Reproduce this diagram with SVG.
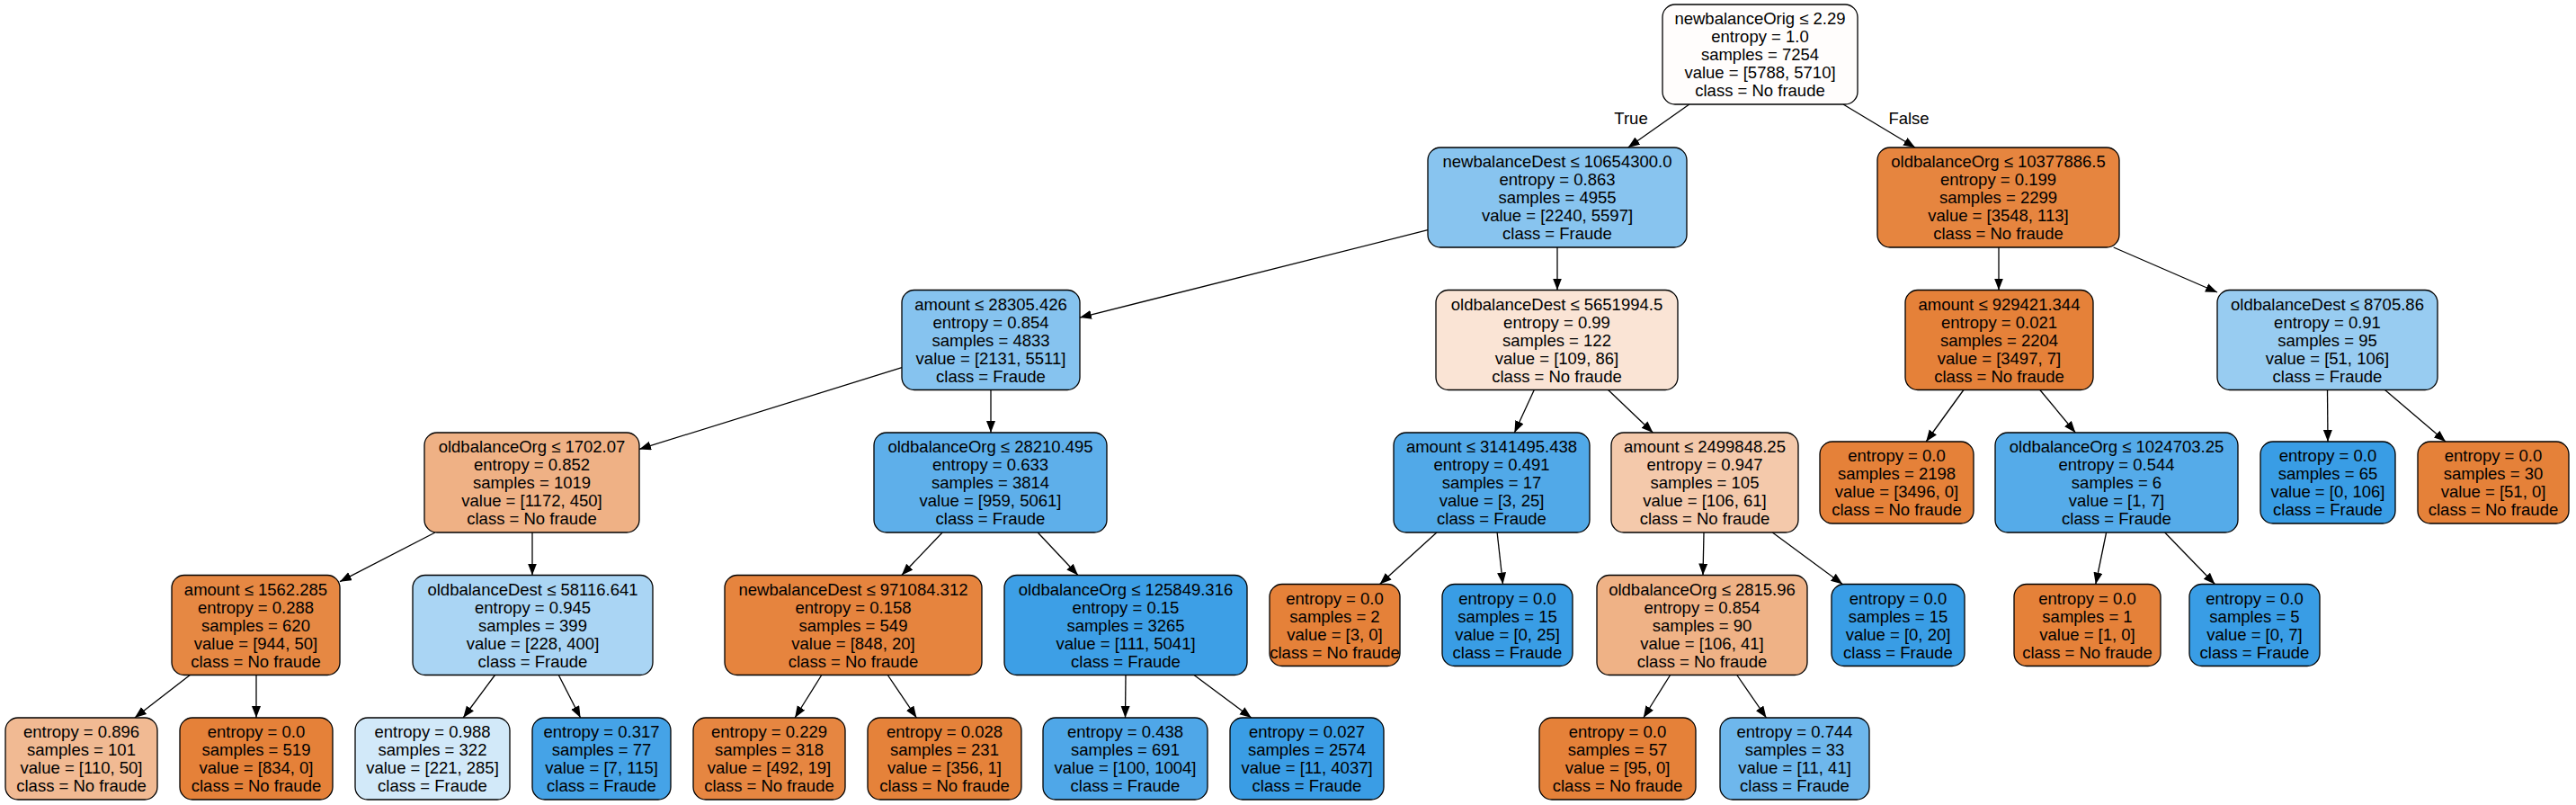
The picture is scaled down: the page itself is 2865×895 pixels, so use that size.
<svg xmlns="http://www.w3.org/2000/svg" width="2865" height="895" viewBox="0 0 2865 895">
<style>
rect{stroke:#000;stroke-width:1.3}
text{font-family:"Liberation Sans",Arial,Helvetica,sans-serif;font-size:18.5px;text-anchor:middle;fill:#000}
.e line{stroke:#000;stroke-width:1.3;marker-end:url(#ah)}
</style>
<defs>
<marker id="ah" markerUnits="userSpaceOnUse" markerWidth="14" markerHeight="11" refX="13" refY="5" orient="auto"><path d="M0,0L13,5L0,10z" fill="#000"/></marker>
</defs>
<rect x="0" y="0" width="2865" height="895" fill="#fff" style="stroke:none"/>
<g class="e" id="edges">
<line x1="1878.8" y1="116" x2="1810.7" y2="164"/>
<line x1="2050" y1="116" x2="2130" y2="164"/>
<line x1="1588" y1="255.7" x2="1201" y2="353.1"/>
<line x1="1732" y1="275" x2="1732" y2="322.5"/>
<line x1="2223" y1="275" x2="2223" y2="322.5"/>
<line x1="2350.7" y1="275" x2="2466" y2="325"/>
<line x1="1003" y1="408.7" x2="711" y2="499.4"/>
<line x1="1102" y1="433.5" x2="1102" y2="481"/>
<line x1="1706.3" y1="433.5" x2="1684.4" y2="481"/>
<line x1="1788.6" y1="433.5" x2="1838.4" y2="481"/>
<line x1="2183.9" y1="433.5" x2="2142.2" y2="491"/>
<line x1="2268.8" y1="433.5" x2="2308.3" y2="481"/>
<line x1="2588.5" y1="433.5" x2="2589" y2="491"/>
<line x1="2652.5" y1="433.5" x2="2720" y2="491"/>
<line x1="484" y1="592" x2="378" y2="646.7"/>
<line x1="592" y1="592" x2="592" y2="639.5"/>
<line x1="1048.1" y1="592" x2="1002.8" y2="639.5"/>
<line x1="1154.2" y1="592" x2="1198.9" y2="639.5"/>
<line x1="1597.9" y1="592" x2="1534.6" y2="649.5"/>
<line x1="1665.1" y1="592" x2="1671.5" y2="649.5"/>
<line x1="1895" y1="592" x2="1894" y2="639.5"/>
<line x1="1971.3" y1="592" x2="2049.3" y2="649.5"/>
<line x1="2342.6" y1="592" x2="2330.8" y2="649.5"/>
<line x1="2407.7" y1="592" x2="2463.4" y2="649.5"/>
<line x1="211.3" y1="750.5" x2="149.9" y2="798"/>
<line x1="285" y1="750.5" x2="285" y2="798"/>
<line x1="550.5" y1="750.5" x2="515.2" y2="798"/>
<line x1="621.3" y1="750.5" x2="645.6" y2="798"/>
<line x1="913.8" y1="750.5" x2="884.1" y2="798"/>
<line x1="987.3" y1="750.5" x2="1019.4" y2="798"/>
<line x1="1252" y1="750.5" x2="1251.5" y2="798"/>
<line x1="1328" y1="750.5" x2="1391.8" y2="798"/>
<line x1="1857.6" y1="750.5" x2="1827.8" y2="798"/>
<line x1="1931.8" y1="750.5" x2="1964.5" y2="798"/>
</g>
<text x="1814" y="138">True</text>
<text x="2123" y="138">False</text>
<g id="n0"><rect x="1849" y="5" width="217" height="111" rx="14" fill="#fffdfc"/><text><tspan x="1957.5" y="27">newbalanceOrig ≤ 2.29</tspan><tspan x="1957.5" y="47">entropy = 1.0</tspan><tspan x="1957.5" y="67">samples = 7254</tspan><tspan x="1957.5" y="87">value = [5788, 5710]</tspan><tspan x="1957.5" y="107">class = No fraude</tspan></text></g>
<g id="n1"><rect x="1588" y="164" width="288" height="111" rx="14" fill="#88c4ef"/><text><tspan x="1732" y="186">newbalanceDest ≤ 10654300.0</tspan><tspan x="1732" y="206">entropy = 0.863</tspan><tspan x="1732" y="226">samples = 4955</tspan><tspan x="1732" y="246">value = [2240, 5597]</tspan><tspan x="1732" y="266">class = Fraude</tspan></text></g>
<g id="n2"><rect x="2088" y="164" width="269" height="111" rx="14" fill="#e6853f"/><text><tspan x="2222.5" y="186">oldbalanceOrg ≤ 10377886.5</tspan><tspan x="2222.5" y="206">entropy = 0.199</tspan><tspan x="2222.5" y="226">samples = 2299</tspan><tspan x="2222.5" y="246">value = [3548, 113]</tspan><tspan x="2222.5" y="266">class = No fraude</tspan></text></g>
<g id="n3"><rect x="1003" y="322.5" width="198" height="111" rx="14" fill="#86c3ef"/><text><tspan x="1102" y="344.5">amount ≤ 28305.426</tspan><tspan x="1102" y="364.5">entropy = 0.854</tspan><tspan x="1102" y="384.5">samples = 4833</tspan><tspan x="1102" y="404.5">value = [2131, 5511]</tspan><tspan x="1102" y="424.5">class = Fraude</tspan></text></g>
<g id="n4"><rect x="1597" y="322.5" width="269" height="111" rx="14" fill="#fae4d5"/><text><tspan x="1731.5" y="344.5">oldbalanceDest ≤ 5651994.5</tspan><tspan x="1731.5" y="364.5">entropy = 0.99</tspan><tspan x="1731.5" y="384.5">samples = 122</tspan><tspan x="1731.5" y="404.5">value = [109, 86]</tspan><tspan x="1731.5" y="424.5">class = No fraude</tspan></text></g>
<g id="n5"><rect x="2119" y="322.5" width="209" height="111" rx="14" fill="#e58139"/><text><tspan x="2223.5" y="344.5">amount ≤ 929421.344</tspan><tspan x="2223.5" y="364.5">entropy = 0.021</tspan><tspan x="2223.5" y="384.5">samples = 2204</tspan><tspan x="2223.5" y="404.5">value = [3497, 7]</tspan><tspan x="2223.5" y="424.5">class = No fraude</tspan></text></g>
<g id="n6"><rect x="2466" y="322.5" width="245" height="111" rx="14" fill="#98ccf1"/><text><tspan x="2588.5" y="344.5">oldbalanceDest ≤ 8705.86</tspan><tspan x="2588.5" y="364.5">entropy = 0.91</tspan><tspan x="2588.5" y="384.5">samples = 95</tspan><tspan x="2588.5" y="404.5">value = [51, 106]</tspan><tspan x="2588.5" y="424.5">class = Fraude</tspan></text></g>
<g id="n7"><rect x="472" y="481" width="239" height="111" rx="14" fill="#efb185"/><text><tspan x="591.5" y="503">oldbalanceOrg ≤ 1702.07</tspan><tspan x="591.5" y="523">entropy = 0.852</tspan><tspan x="591.5" y="543">samples = 1019</tspan><tspan x="591.5" y="563">value = [1172, 450]</tspan><tspan x="591.5" y="583">class = No fraude</tspan></text></g>
<g id="n8"><rect x="972" y="481" width="259" height="111" rx="14" fill="#5eafea"/><text><tspan x="1101.5" y="503">oldbalanceOrg ≤ 28210.495</tspan><tspan x="1101.5" y="523">entropy = 0.633</tspan><tspan x="1101.5" y="543">samples = 3814</tspan><tspan x="1101.5" y="563">value = [959, 5061]</tspan><tspan x="1101.5" y="583">class = Fraude</tspan></text></g>
<g id="n9"><rect x="1550" y="481" width="218" height="111" rx="14" fill="#51a9e8"/><text><tspan x="1659" y="503">amount ≤ 3141495.438</tspan><tspan x="1659" y="523">entropy = 0.491</tspan><tspan x="1659" y="543">samples = 17</tspan><tspan x="1659" y="563">value = [3, 25]</tspan><tspan x="1659" y="583">class = Fraude</tspan></text></g>
<g id="n10"><rect x="1792" y="481" width="208" height="111" rx="14" fill="#f4c9ab"/><text><tspan x="1896" y="503">amount ≤ 2499848.25</tspan><tspan x="1896" y="523">entropy = 0.947</tspan><tspan x="1896" y="543">samples = 105</tspan><tspan x="1896" y="563">value = [106, 61]</tspan><tspan x="1896" y="583">class = No fraude</tspan></text></g>
<g id="n11"><rect x="2024" y="491" width="171" height="91" rx="14" fill="#e58139"/><text><tspan x="2109.5" y="513">entropy = 0.0</tspan><tspan x="2109.5" y="533">samples = 2198</tspan><tspan x="2109.5" y="553">value = [3496, 0]</tspan><tspan x="2109.5" y="573">class = No fraude</tspan></text></g>
<g id="n12"><rect x="2219" y="481" width="270" height="111" rx="14" fill="#55abe9"/><text><tspan x="2354" y="503">oldbalanceOrg ≤ 1024703.25</tspan><tspan x="2354" y="523">entropy = 0.544</tspan><tspan x="2354" y="543">samples = 6</tspan><tspan x="2354" y="563">value = [1, 7]</tspan><tspan x="2354" y="583">class = Fraude</tspan></text></g>
<g id="n13"><rect x="2514" y="491" width="150" height="91" rx="14" fill="#399de5"/><text><tspan x="2589" y="513">entropy = 0.0</tspan><tspan x="2589" y="533">samples = 65</tspan><tspan x="2589" y="553">value = [0, 106]</tspan><tspan x="2589" y="573">class = Fraude</tspan></text></g>
<g id="n14"><rect x="2689" y="491" width="168" height="91" rx="14" fill="#e58139"/><text><tspan x="2773" y="513">entropy = 0.0</tspan><tspan x="2773" y="533">samples = 30</tspan><tspan x="2773" y="553">value = [51, 0]</tspan><tspan x="2773" y="573">class = No fraude</tspan></text></g>
<g id="n15"><rect x="191" y="639.5" width="187" height="111" rx="14" fill="#e68843"/><text><tspan x="284.5" y="661.5">amount ≤ 1562.285</tspan><tspan x="284.5" y="681.5">entropy = 0.288</tspan><tspan x="284.5" y="701.5">samples = 620</tspan><tspan x="284.5" y="721.5">value = [944, 50]</tspan><tspan x="284.5" y="741.5">class = No fraude</tspan></text></g>
<g id="n16"><rect x="459" y="639.5" width="267" height="111" rx="14" fill="#aad5f4"/><text><tspan x="592.5" y="661.5">oldbalanceDest ≤ 58116.641</tspan><tspan x="592.5" y="681.5">entropy = 0.945</tspan><tspan x="592.5" y="701.5">samples = 399</tspan><tspan x="592.5" y="721.5">value = [228, 400]</tspan><tspan x="592.5" y="741.5">class = Fraude</tspan></text></g>
<g id="n17"><rect x="806" y="639.5" width="286" height="111" rx="14" fill="#e6843e"/><text><tspan x="949" y="661.5">newbalanceDest ≤ 971084.312</tspan><tspan x="949" y="681.5">entropy = 0.158</tspan><tspan x="949" y="701.5">samples = 549</tspan><tspan x="949" y="721.5">value = [848, 20]</tspan><tspan x="949" y="741.5">class = No fraude</tspan></text></g>
<g id="n18"><rect x="1117" y="639.5" width="270" height="111" rx="14" fill="#3d9fe6"/><text><tspan x="1252" y="661.5">oldbalanceOrg ≤ 125849.316</tspan><tspan x="1252" y="681.5">entropy = 0.15</tspan><tspan x="1252" y="701.5">samples = 3265</tspan><tspan x="1252" y="721.5">value = [111, 5041]</tspan><tspan x="1252" y="741.5">class = Fraude</tspan></text></g>
<g id="n19"><rect x="1412" y="649.5" width="145" height="91" rx="14" fill="#e58139"/><text><tspan x="1484.5" y="671.5">entropy = 0.0</tspan><tspan x="1484.5" y="691.5">samples = 2</tspan><tspan x="1484.5" y="711.5">value = [3, 0]</tspan><tspan x="1484.5" y="731.5">class = No fraude</tspan></text></g>
<g id="n20"><rect x="1604" y="649.5" width="145" height="91" rx="14" fill="#399de5"/><text><tspan x="1676.5" y="671.5">entropy = 0.0</tspan><tspan x="1676.5" y="691.5">samples = 15</tspan><tspan x="1676.5" y="711.5">value = [0, 25]</tspan><tspan x="1676.5" y="731.5">class = Fraude</tspan></text></g>
<g id="n21"><rect x="1776" y="639.5" width="234" height="111" rx="14" fill="#efb286"/><text><tspan x="1893" y="661.5">oldbalanceOrg ≤ 2815.96</tspan><tspan x="1893" y="681.5">entropy = 0.854</tspan><tspan x="1893" y="701.5">samples = 90</tspan><tspan x="1893" y="721.5">value = [106, 41]</tspan><tspan x="1893" y="741.5">class = No fraude</tspan></text></g>
<g id="n22"><rect x="2037" y="649.5" width="148" height="91" rx="14" fill="#399de5"/><text><tspan x="2111" y="671.5">entropy = 0.0</tspan><tspan x="2111" y="691.5">samples = 15</tspan><tspan x="2111" y="711.5">value = [0, 20]</tspan><tspan x="2111" y="731.5">class = Fraude</tspan></text></g>
<g id="n23"><rect x="2240" y="649.5" width="163" height="91" rx="14" fill="#e58139"/><text><tspan x="2321.5" y="671.5">entropy = 0.0</tspan><tspan x="2321.5" y="691.5">samples = 1</tspan><tspan x="2321.5" y="711.5">value = [1, 0]</tspan><tspan x="2321.5" y="731.5">class = No fraude</tspan></text></g>
<g id="n24"><rect x="2435" y="649.5" width="145" height="91" rx="14" fill="#399de5"/><text><tspan x="2507.5" y="671.5">entropy = 0.0</tspan><tspan x="2507.5" y="691.5">samples = 5</tspan><tspan x="2507.5" y="711.5">value = [0, 7]</tspan><tspan x="2507.5" y="731.5">class = Fraude</tspan></text></g>
<g id="n25"><rect x="6" y="798" width="169" height="91" rx="14" fill="#f1ba93"/><text><tspan x="90.5" y="820">entropy = 0.896</tspan><tspan x="90.5" y="840">samples = 101</tspan><tspan x="90.5" y="860">value = [110, 50]</tspan><tspan x="90.5" y="880">class = No fraude</tspan></text></g>
<g id="n26"><rect x="200" y="798" width="170" height="91" rx="14" fill="#e58139"/><text><tspan x="285" y="820">entropy = 0.0</tspan><tspan x="285" y="840">samples = 519</tspan><tspan x="285" y="860">value = [834, 0]</tspan><tspan x="285" y="880">class = No fraude</tspan></text></g>
<g id="n27"><rect x="395" y="798" width="172" height="91" rx="14" fill="#d2e9f9"/><text><tspan x="481" y="820">entropy = 0.988</tspan><tspan x="481" y="840">samples = 322</tspan><tspan x="481" y="860">value = [221, 285]</tspan><tspan x="481" y="880">class = Fraude</tspan></text></g>
<g id="n28"><rect x="592" y="798" width="154" height="91" rx="14" fill="#45a3e7"/><text><tspan x="669" y="820">entropy = 0.317</tspan><tspan x="669" y="840">samples = 77</tspan><tspan x="669" y="860">value = [7, 115]</tspan><tspan x="669" y="880">class = Fraude</tspan></text></g>
<g id="n29"><rect x="771" y="798" width="169" height="91" rx="14" fill="#e68641"/><text><tspan x="855.5" y="820">entropy = 0.229</tspan><tspan x="855.5" y="840">samples = 318</tspan><tspan x="855.5" y="860">value = [492, 19]</tspan><tspan x="855.5" y="880">class = No fraude</tspan></text></g>
<g id="n30"><rect x="965" y="798" width="171" height="91" rx="14" fill="#e5823a"/><text><tspan x="1050.5" y="820">entropy = 0.028</tspan><tspan x="1050.5" y="840">samples = 231</tspan><tspan x="1050.5" y="860">value = [356, 1]</tspan><tspan x="1050.5" y="880">class = No fraude</tspan></text></g>
<g id="n31"><rect x="1160" y="798" width="183" height="91" rx="14" fill="#4fa7e8"/><text><tspan x="1251.5" y="820">entropy = 0.438</tspan><tspan x="1251.5" y="840">samples = 691</tspan><tspan x="1251.5" y="860">value = [100, 1004]</tspan><tspan x="1251.5" y="880">class = Fraude</tspan></text></g>
<g id="n32"><rect x="1368" y="798" width="171" height="91" rx="14" fill="#3a9de5"/><text><tspan x="1453.5" y="820">entropy = 0.027</tspan><tspan x="1453.5" y="840">samples = 2574</tspan><tspan x="1453.5" y="860">value = [11, 4037]</tspan><tspan x="1453.5" y="880">class = Fraude</tspan></text></g>
<g id="n33"><rect x="1712" y="798" width="174" height="91" rx="14" fill="#e58139"/><text><tspan x="1799" y="820">entropy = 0.0</tspan><tspan x="1799" y="840">samples = 57</tspan><tspan x="1799" y="860">value = [95, 0]</tspan><tspan x="1799" y="880">class = No fraude</tspan></text></g>
<g id="n34"><rect x="1913" y="798" width="166" height="91" rx="14" fill="#6eb7ec"/><text><tspan x="1996" y="820">entropy = 0.744</tspan><tspan x="1996" y="840">samples = 33</tspan><tspan x="1996" y="860">value = [11, 41]</tspan><tspan x="1996" y="880">class = Fraude</tspan></text></g>
</svg>
